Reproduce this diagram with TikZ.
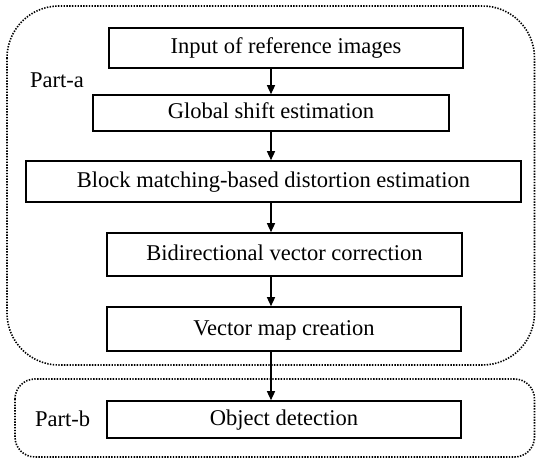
\documentclass[tikz,border=0pt]{standalone}
\usepackage{fontspec}
\setmainfont{Liberation Serif}
\usetikzlibrary{positioning,calc,arrows.meta}
\tikzset{
box/.style={
  draw,
  line width=1.6bp,
  rectangle,
  align=center,
  text height=16.5bp,
  text depth=4.5bp,
  font=\fontsize{22.6}{26}\selectfont
  },
arr/.style={-{Triangle[length=9bp,width=8bp]},line width=1.4bp},
group/.style={line width=1.6bp,dash pattern=on 1.4bp off 1.4bp},
lbl/.style={anchor=west,font=\fontsize{22.6}{26}\selectfont,inner sep=0pt}
}
\begin{document}
\begin{tikzpicture}[x=1bp,y=-1bp]
    \useasboundingbox (0,0) rectangle (536,459);
    % the two parts
    \draw [group,rounded corners=52bp] (7,6) rectangle (534.5,365);
    \draw [group,rounded corners=20bp] (15,379) rectangle (534.5,457);
    \node [lbl] (pa) at (30,80) {Part-a};
    \node [lbl] (pb) at (35,419) {Part-b};
    % steps
    \node [box,minimum width=354bp,minimum height=40bp] (b1) at (286,48) {Input of reference images};
    \node [box,minimum width=356bp,minimum height=36bp] (b2) at (271,113) {Global shift estimation};
    \node [box,minimum width=495bp,minimum height=41bp] (b3) at (273.5,181.5) {Block matching-based distortion estimation};
    \node [box,minimum width=355bp,minimum height=43bp] (b4) at (284.5,254.5) {Bidirectional vector correction};
    \node [box,minimum width=354bp,minimum height=44bp] (b5) at (284,329) {Vector map creation};
    \node [box,minimum width=354bp,minimum height=37bp] (b6) at (284,419.5) {Object detection};
    % arrows
    \draw [arr] (b2 |- b1.south) -- (b2.north);
    \draw [arr] (b2.south) -- (b2 |- b3.north);
    \draw [arr] (b2 |- b3.south) -- (b2 |- b4.north);
    \draw [arr] (b2 |- b4.south) -- (b2 |- b5.north);
    \draw [arr] (b2 |- b5.south) -- (b2 |- b6.north);
\end{tikzpicture}
\end{document}
